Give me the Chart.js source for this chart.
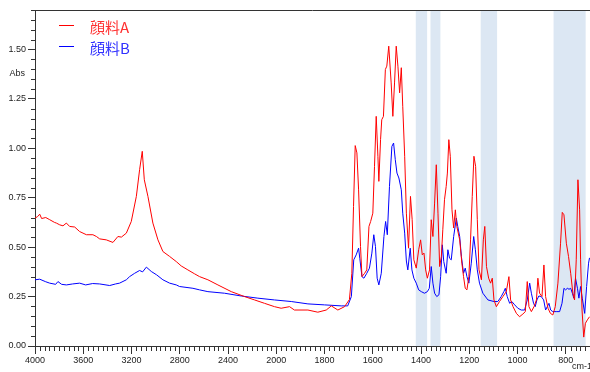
<!DOCTYPE html>
<html>
<head>
<meta charset="utf-8">
<script src="https://cdn.jsdelivr.net/npm/chart.js@4/dist/chart.umd.min.js"></script>
<style>
  html, body { margin: 0; padding: 0; background: #fff; }
  canvas { display: block; }
</style>
</head>
<body>
<canvas id="myChart" width="590" height="372"></canvas>
<script>
// wavenumbers (cm-1) and absorbance
var wnA = [4000,3978,3961,3945,3911,3878,3837,3823,3795,3768,3740,3713,3671,3630,3574,3520,3491,3464,3409,3354,
  3313,3284,3243,3202,3160,3133,3111,3094,3064,3023,2981,2940,2884,2829,2788,2733,2677,2636,2567,2484,
  2373,2263,2180,2098,2015,1980,1945,1925,1869,1828,1793,1772,1745,1717,1697,1687,1680,1673,1666,1659,
  1651,1645,1634,1625,1616,1609,1600,1593,1586,1579,1575,1568,1563,1556,1548,1542,1534,1524,1517,1510,
  1503,1496,1489,1482,1476,1468,1461,1452,1444,1437,1430,1420,1410,1402,1395,1388,1381,1374,1365,1358,
  1351,1344,1337,1330,1323,1316,1310,1303,1296,1291,1285,1279,1272,1265,1258,1252,1240,1231,1224,1217,
  1210,1202,1195,1188,1181,1174,1167,1160,1150,1142,1136,1129,1120,1112,1105,1098,1088,1075,1061,1047,
  1036,1029,1019,1005,992,978,968,960,953,943,932,922,916,909,899,891,884,874,864,854,
  844,833,822,815,808,798,789,780,771,764,757,750,743,739,733,726,719,711,702];
var absA = [0.647,0.655,0.667,0.645,0.650,0.639,0.625,0.622,0.613,0.608,0.622,0.605,0.602,0.579,0.563,0.563,0.554,0.542,0.537,0.524,
  0.554,0.551,0.571,0.630,0.757,0.892,0.985,0.841,0.757,0.622,0.537,0.478,0.453,0.427,0.405,0.385,0.365,0.351,0.335,0.309,
  0.275,0.250,0.233,0.216,0.199,0.191,0.199,0.182,0.182,0.171,0.182,0.203,0.182,0.199,0.235,0.368,0.706,1.014,0.977,0.790,
  0.503,0.351,0.368,0.385,0.605,0.630,0.672,0.909,1.162,0.960,0.833,1.044,1.145,1.162,1.399,1.416,1.517,1.331,1.162,1.331,
  1.517,1.416,1.281,1.408,1.213,0.960,0.672,0.495,0.757,0.639,0.436,0.394,0.487,0.537,0.461,0.470,0.385,0.343,0.385,0.639,
  0.554,0.723,0.917,0.672,0.402,0.453,0.588,0.740,0.807,0.875,1.044,0.960,0.689,0.597,0.689,0.605,0.537,0.419,0.351,0.292,
  0.284,0.351,0.537,0.757,0.960,0.909,0.639,0.385,0.335,0.537,0.605,0.402,0.343,0.318,0.343,0.233,0.199,0.225,0.250,0.275,
  0.351,0.233,0.199,0.165,0.148,0.162,0.174,0.326,0.199,0.174,0.199,0.233,0.343,0.267,0.250,0.410,0.250,0.191,0.165,0.157,
  0.199,0.318,0.520,0.676,0.664,0.520,0.453,0.368,0.267,0.233,0.436,0.841,0.689,0.436,0.182,0.045,0.115,0.132,0.148];

var wnB = [4000,3961,3911,3878,3829,3810,3779,3740,3688,3630,3580,3522,3464,3381,3332,3299,3243,3216,3174,3133,
  3108,3077,3036,2992,2940,2884,2829,2802,2691,2636,2567,2429,2291,2153,2015,1938,1869,1800,1731,1704,
  1689,1679,1669,1659,1654,1645,1637,1625,1614,1604,1596,1589,1582,1575,1565,1554,1547,1540,1531,1521,
  1514,1507,1500,1492,1482,1476,1468,1461,1455,1445,1438,1430,1420,1410,1399,1386,1374,1366,1358,1351,
  1344,1335,1326,1319,1312,1306,1296,1289,1282,1275,1265,1254,1248,1240,1233,1224,1217,1210,1202,1192,
  1182,1175,1167,1158,1144,1123,1098,1082,1068,1057,1051,1043,1033,1024,1012,999,985,971,960,950,
  943,934,927,920,912,902,892,884,877,870,863,854,840,826,816,808,801,794,787,780,
  773,767,760,752,746,739,732,722,714,706,702];
var absB = [0.335,0.338,0.325,0.318,0.312,0.326,0.312,0.309,0.314,0.318,0.309,0.316,0.314,0.306,0.314,0.318,0.335,0.351,0.368,0.382,
  0.375,0.399,0.377,0.360,0.335,0.318,0.309,0.301,0.292,0.284,0.275,0.267,0.253,0.242,0.233,0.225,0.213,0.208,0.203,0.203,
  0.250,0.436,0.461,0.495,0.444,0.351,0.343,0.368,0.394,0.470,0.563,0.503,0.343,0.309,0.368,0.554,0.630,0.563,0.807,1.010,
  1.027,0.943,0.875,0.850,0.790,0.672,0.571,0.430,0.385,0.495,0.385,0.343,0.318,0.284,0.275,0.267,0.275,0.292,0.402,0.318,
  0.267,0.250,0.259,0.351,0.512,0.427,0.368,0.487,0.444,0.436,0.554,0.647,0.605,0.554,0.453,0.368,0.394,0.351,0.318,0.419,
  0.554,0.487,0.385,0.318,0.267,0.233,0.225,0.225,0.250,0.275,0.292,0.250,0.216,0.225,0.208,0.191,0.182,0.182,0.233,0.318,
  0.267,0.216,0.199,0.233,0.253,0.250,0.233,0.182,0.199,0.216,0.182,0.174,0.174,0.174,0.216,0.292,0.284,0.292,0.287,0.292,
  0.267,0.242,0.343,0.292,0.242,0.301,0.242,0.165,0.301,0.419,0.446];

// shaded bands (cm-1)
var bandFrom = [1422, 1361, 1153, 851];
var bandTo   = [1375, 1320, 1085, 718];

// tick labels
var xTickWn = [4000,3600,3200,2800,2400,2000,1800,1600,1400,1200,1000,800];
var yTickVals = [0,0.25,0.5,0.75,1.0,1.25,1.5];

var seriesNames = ['顔料A', '顔料B'];
var seriesColors = ['#ff0000', '#0000ff'];
var legendText = ['#ff3030', '#3030ff'];

// x axis is split at 2000 cm-1: above it the scale is compressed by half
function toU(wn) {
  return wn >= 2000 ? (4000 - wn) / 2 : 1000 + (2000 - wn);
}
function fromU(u) {
  return u <= 1000 ? 4000 - 2 * u : 3000 - u;
}
function pts(wn, ab) {
  return wn.map(function (w, i) { return { x: toU(w), y: ab[i] }; });
}

var tickFont = { family: 'Liberation Sans', size: 9 };

var decor = {
  id: 'decor',
  beforeDatasetsDraw: function (chart) {
    var ctx = chart.ctx, a = chart.chartArea, xs = chart.scales.x;
    ctx.save();
    ctx.fillStyle = '#dce7f3';
    for (var i = 0; i < bandFrom.length; i++) {
      var x1 = xs.getPixelForValue(toU(bandFrom[i]));
      var x2 = xs.getPixelForValue(toU(bandTo[i]));
      ctx.fillRect(x1, a.top, x2 - x1, a.bottom - a.top);
    }
    ctx.restore();
  },
  afterDraw: function (chart) {
    var ctx = chart.ctx, a = chart.chartArea, xs = chart.scales.x, ys = chart.scales.y;
    ctx.save();
    ctx.strokeStyle = '#333';
    ctx.lineWidth = 1;
    ctx.beginPath();
    // top frame line
    ctx.moveTo(a.left, Math.round(a.top) + 0.5);
    ctx.lineTo(a.right, Math.round(a.top) + 0.5);
    // minor x ticks
    for (var u = 20; u <= 2300; u += 20) {
      if (u % 200 === 0) continue;
      var px = Math.round(xs.getPixelForValue(u)) + 0.5;
      ctx.moveTo(px, a.bottom);
      ctx.lineTo(px, a.bottom + 5);
    }
    // minor y ticks
    for (var k = 1; k <= 34; k++) {
      if (k % 5 === 0 && k <= 30) continue;
      var py = Math.round(ys.getPixelForValue(k * 0.05)) + 0.5;
      ctx.moveTo(a.left - 4, py);
      ctx.lineTo(a.left, py);
    }
    ctx.stroke();

    ctx.fillStyle = '#222';
    ctx.font = '9px "Liberation Sans"';
    ctx.textAlign = 'right';
    ctx.textBaseline = 'middle';
    ctx.fillText('Abs', 25, 74);
    ctx.textAlign = 'left';
    ctx.textBaseline = 'alphabetic';
    ctx.fillText('cm-1', 572, 369);

    // legend
    ctx.font = '15px "Noto Sans CJK JP"';
    ctx.textBaseline = 'middle';
    for (var s = 0; s < seriesNames.length; s++) {
      var ly = 25.5 + s * 21;
      ctx.beginPath();
      ctx.strokeStyle = seriesColors[s];
      ctx.lineWidth = 1;
      ctx.moveTo(59, ly);
      ctx.lineTo(74, ly);
      ctx.stroke();
      ctx.fillStyle = legendText[s];
      ctx.fillText(seriesNames[s], 90, ly + 2);
    }
    ctx.restore();
  }
};

var config = {
  type: 'line',
  data: {
    datasets: [
      { label: seriesNames[0], data: pts(wnA, absA), borderColor: seriesColors[0], borderWidth: 1, pointRadius: 0, tension: 0 },
      { label: seriesNames[1], data: pts(wnB, absB), borderColor: seriesColors[1], borderWidth: 1, pointRadius: 0, tension: 0 }
    ]
  },
  options: {
    responsive: false,
    animation: false,
    devicePixelRatio: 1,
    layout: { padding: { top: 10, right: 0, left: 0, bottom: 0 } },
    plugins: { legend: { display: false }, tooltip: { enabled: false } },
    scales: {
      x: {
        type: 'linear',
        min: 0,
        max: 2300,
        afterBuildTicks: function (scale) {
          scale.ticks = xTickWn.map(function (w) { return { value: toU(w) }; });
        },
        afterFit: function (scale) {
          scale.height = 26;
          scale.paddingLeft = 0;
          scale.paddingRight = 0;
        },
        ticks: {
          autoSkip: false,
          maxRotation: 0,
          padding: 1,
          color: '#222',
          font: tickFont,
          callback: function (v) { return String(fromU(v)); }
        },
        grid: { drawOnChartArea: false, drawTicks: true, tickLength: 8, color: '#333' },
        border: { display: true, color: '#333', width: 1 }
      },
      y: {
        min: 0,
        max: 1.7,
        afterBuildTicks: function (scale) {
          scale.ticks = yTickVals.map(function (v) { return { value: v }; });
        },
        afterFit: function (scale) {
          scale.width = 35;
          scale.paddingTop = 0;
          scale.paddingBottom = 0;
        },
        ticks: {
          padding: 2,
          color: '#222',
          font: tickFont,
          callback: function (v) { return v.toFixed(2); }
        },
        grid: { drawOnChartArea: false, drawTicks: true, tickLength: 7, color: '#333' },
        border: { display: true, color: '#333', width: 1 }
      }
    }
  },
  plugins: [decor]
};

var mychart = new Chart(document.getElementById('myChart'), config);
</script>
</body>
</html>
